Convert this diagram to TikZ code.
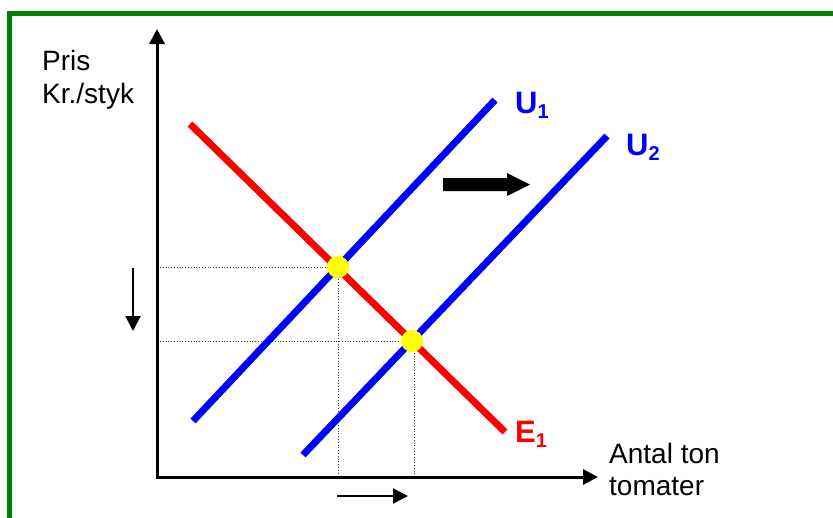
\documentclass[tikz,border=0pt]{standalone}
\usepackage{fontspec}
\setmainfont{Liberation Sans}
\usetikzlibrary{arrows.meta}
\definecolor{frameg}{RGB}{0,128,0}
\definecolor{pblue}{RGB}{0,0,255}
\definecolor{pred}{RGB}{255,0,0}
\definecolor{pyel}{RGB}{255,255,0}
\tikzset{
  axis/.style={line width=3pt,-{Triangle[length=15pt,width=15pt]}},
  supply/.style={line width=7pt,pblue},
  demand/.style={line width=7pt,pred},
  guide/.style={dotted,line width=0.8pt,black!75},
  eqdot/.style={circle,fill=pyel,minimum size=22pt,inner sep=0pt},
  thinarrow/.style={line width=2pt,-{Triangle[length=15pt,width=15pt]}},
  lbl/.style={inner sep=0pt,anchor=base west,font=\fontsize{28}{33}\selectfont},
  curvelbl/.style={inner sep=0pt,anchor=base west,font=\bfseries\fontsize{31}{36}\selectfont},
}
\newcommand{\lowsub}[1]{\raisebox{-0.18em}{\fontsize{20}{20}\selectfont #1}}
\begin{document}
\begin{tikzpicture}[x=1pt,y=-1pt]
\useasboundingbox (0,0) rectangle (833,517);
\clip (0,0) rectangle (833,517);
\fill[white] (0,0) rectangle (833,517);
% frame
\draw[frameg,line width=5pt] (9.5,540) -- (9.5,13.5) -- (860,13.5);
% coordinates
\coordinate (O) at (157,477);
\coordinate (ytop) at (157,29);
\coordinate (xend) at (598,477);
\coordinate (e1a) at (190,124);
\coordinate (e1b) at (505,432);
\coordinate (u1a) at (193,421);
\coordinate (u1b) at (495,100);
\coordinate (u2a) at (303,455);
\coordinate (u2b) at (607,136);
\node[eqdot] (p1) at (338,267) {};
\node[eqdot] (p2) at (412,341) {};
\coordinate (p1y) at (160,267);
\coordinate (p2y) at (160,341);
\coordinate (p1x) at (338,475);
\coordinate (p2x) at (414,475);
% guides
\draw[guide] (p1y) -- (p1.center) -- (p1x);
\draw[guide] (p2y) -- (414,341) -- (p2x);
% axes
\draw[axis] (O) -- (ytop);
\draw[axis] ([xshift=-1.5pt]O) -- (xend);
% curves
\draw[demand] (e1a) -- (e1b);
\draw[supply] (u1a) -- (u1b);
\draw[supply] (u2a) -- (u2b);
% dots on top
\node[eqdot] at (p1) {};
\node[eqdot] at (p2) {};
% big shift arrow
\coordinate (ba) at (443,184.5);
\coordinate (bb) at (507,184.5);
\coordinate (bt) at (530,184.5);
\fill[black] (443,178) -- (507,178) -- (507,173) -- (bt) -- (507,196) -- (507,191) -- (443,191) -- cycle;
% small arrows
\coordinate (da) at (133,268);
\coordinate (db) at (133,331);
\draw[thinarrow] (da) -- (db);
\coordinate (ra) at (337,496);
\coordinate (rb) at (408,496);
\draw[thinarrow] (ra) -- (rb);
% labels
\node[lbl] (pris) at (42,70) {Pris};
\node[lbl] (kr) at (42,103) {Kr./styk};
\node[lbl] (antal) at (609,463) {Antal ton};
\node[lbl] (tom) at (609,495) {tomater};
\node[curvelbl,text=pblue] (lu1) at (515,113) {U\lowsub{1}};
\node[curvelbl,text=pblue] (lu2) at (626,155) {U\lowsub{2}};
\node[curvelbl,text=pred] (le1) at (515,442) {E\lowsub{1}};
\end{tikzpicture}
\end{document}
